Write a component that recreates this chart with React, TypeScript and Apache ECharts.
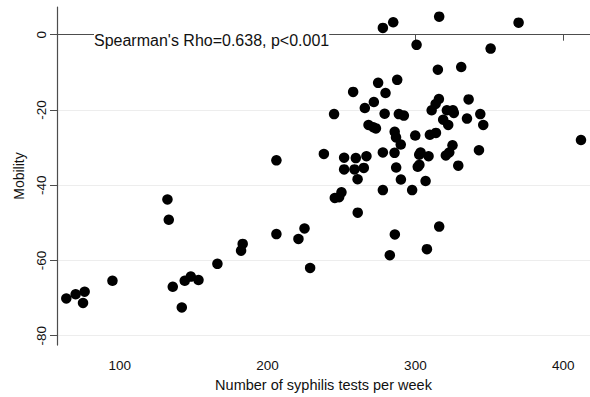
import React, { useEffect, useRef } from "react";
import * as echarts from "echarts";

const testsPerWeek = [
  63.9, 70.2, 76.3, 75.2, 95.1, 132.3, 133.2, 135.9, 142.0, 144.0,
  148.1, 153.3, 166.1, 182.1, 183.2, 206.0, 206.0, 220.9, 225.0, 228.8,
  238.1, 245.0, 245.5, 248.4, 250.0, 251.8, 251.8, 257.9, 258.8, 259.7,
  260.9, 261.0, 265.1, 265.8, 266.9, 268.3, 271.5, 273.3, 271.9, 274.8,
  278.0, 278.0, 278.0, 279.2, 279.8, 285.0, 286.0, 286.9, 290.1, 285.9,
  287.0, 287.7, 288.8, 292.2, 286.1, 282.7, 290.2, 297.8, 299.9, 300.8,
  301.6, 302.7, 302.6, 303.5, 306.9, 307.8, 308.9, 309.8, 311.0, 313.7,
  313.9, 315.2, 316.1, 315.9, 316.1, 318.8, 320.6, 322.2, 322.9, 321.3,
  325.4, 326.0, 325.1, 329.0, 331.0, 334.9, 336.0, 343.0, 343.9, 345.9,
  350.9, 369.8, 412.0,
];

const mobility = [
  -70.1, -69.0, -68.3, -71.3, -65.4, -43.8, -49.2, -67.0, -72.5, -65.4,
  -64.3, -65.2, -60.9, -57.4, -55.6, -53.0, -33.4, -54.3, -51.5, -62.0,
  -31.7, -21.1, -43.4, -43.2, -41.9, -32.7, -35.8, -15.2, -35.8, -32.8,
  -38.4, -47.3, -35.4, -19.5, -32.3, -24.0, -24.6, -24.9, -17.9, -12.8,
  1.8, -31.3, -41.3, -21.0, -15.5, 3.3, -25.8, -27.3, -29.2, -31.4,
  -35.3, -12.0, -21.1, -21.5, -53.1, -58.6, -38.5, -41.3, -26.8, -2.7,
  -35.1, -34.6, -31.9, -31.3, -38.9, -57.0, -32.3, -26.6, -20.1, -18.4,
  -26.1, -9.3, 4.8, -17.1, -51.0, -22.6, -32.1, -24.0, -31.3, -20.1,
  -20.1, -20.8, -29.4, -34.8, -8.6, -22.3, -17.2, -30.7, -21.1, -24.0,
  -3.7, 3.2, -28.0,
];

const xTicks = [100, 200, 300, 400];
const yTicks = [0, -20, -40, -60, -80];
const xTitle = "Number of syphilis tests per week";
const yTitle = "Mobility";
const annotation = "Spearman's Rho=0.638, p<0.001";

const FONT = "'Liberation Sans', Arial, Helvetica, sans-serif";

export default function App() {
  const ref = useRef<HTMLDivElement>(null);
  useEffect(() => {
    if (!ref.current) return;
    const chart = echarts.init(ref.current, null, { renderer: "svg" });
    const points = testsPerWeek.map((x, i) => [x, mobility[i]]);
    chart.setOption({
      animation: false,
      backgroundColor: "#ffffff",
      textStyle: { fontFamily: FONT },
      grid: { left: 57, top: 7, right: 0, bottom: 45, containLabel: false },
      xAxis: {
        type: "value",
        min: 57.6,
        max: 418.1,
        name: xTitle,
        nameLocation: "middle",
        nameGap: 26,
        nameTextStyle: { fontSize: 14.5, color: "#111", fontFamily: FONT },
        axisLine: { show: true, lineStyle: { color: "#4d4d4d", width: 1.2 } },
        axisTick: { show: true, length: 6, customValues: xTicks, lineStyle: { color: "#4d4d4d", width: 1 } },
        axisLabel: { customValues: xTicks, fontSize: 13.5, color: "#111", margin: 13, fontFamily: FONT },
        splitLine: { show: false },
      },
      yAxis: {
        type: "value",
        min: -82.5,
        max: 7.36,
        name: yTitle,
        nameLocation: "middle",
        nameGap: 27,
        nameRotate: 90,
        nameTextStyle: { fontSize: 14, color: "#111", fontFamily: FONT },
        axisLine: { show: true, lineStyle: { color: "#4d4d4d", width: 1.2 } },
        axisTick: { show: true, length: 7, customValues: yTicks, lineStyle: { color: "#4d4d4d", width: 1 } },
        axisLabel: { customValues: yTicks, rotate: 90, fontSize: 13.5, color: "#111", margin: 9, fontFamily: FONT },
        splitLine: { show: true, lineStyle: { color: "#ededed", width: 1 } },
      },
      graphic: [
        {
          type: "text",
          left: 94,
          top: 32,
          z: 100,
          style: {
            text: annotation,
            fontSize: 16,
            fill: "#111",
            fontFamily: FONT,
            backgroundColor: "#ffffff",
          },
        },
      ],
      series: [
        {
          type: "scatter",
          data: points,
          symbol: "circle",
          symbolSize: 10.5,
          itemStyle: { color: "#000000", opacity: 1 },
        },
      ],
    });
    return () => chart.dispose();
  }, []);
  return (
    <div
      ref={ref}
      style={{ position: "fixed", left: 0, top: 0, width: 590, height: 397, background: "#fff" }}
    />
  );
}
